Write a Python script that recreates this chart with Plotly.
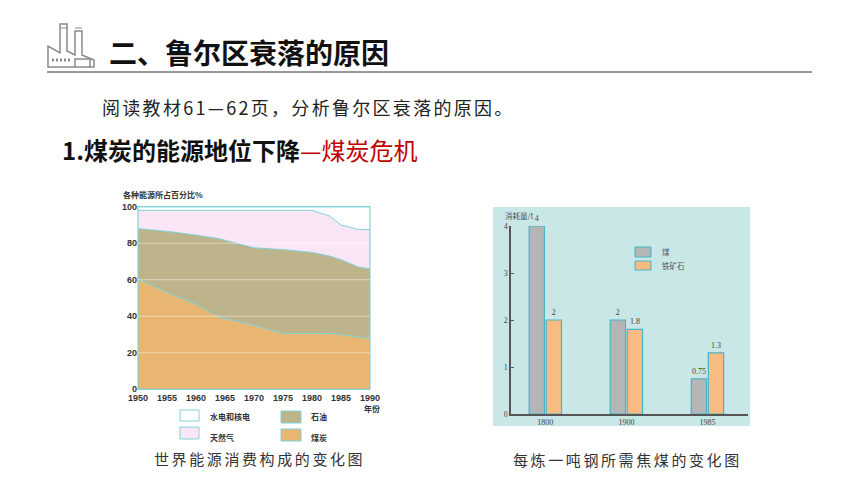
import plotly.graph_objects as go

W, H = 860, 484

# left chart, share of each source in percent
anios = [1950, 1955, 1960, 1964, 1970, 1975, 1980, 1983, 1985, 1988, 1990]
carbon = [60.5, 53, 46.5, 39.5, 35, 30.5, 30.5, 30.5, 30, 28.5, 28]
petroleo = [27.5, 33.5, 38, 43, 42.5, 46, 44.5, 42.5, 41, 38.5, 38]
gas = [10, 11.5, 13.5, 15.5, 20.5, 21.5, 23, 22, 19, 20.5, 21.5]
hidro = [2, 2, 2, 2, 2, 2, 2, 5, 10, 12.5, 12.5]
ticks_x = [1950, 1955, 1960, 1965, 1970, 1975, 1980, 1985, 1990]
ticks_y = [0, 20, 40, 60, 80, 100]

# right chart, tonnes per ton of steel
periodos = ["1800", "1900", "1985"]
coque = [4, 2, 0.75]
hierro = [2, 1.8, 1.3]
coque_txt = ["4", "2", "0.75"]
hierro_txt = ["2", "1.8", "1.3"]

TEAL = "#7fd3d6"
BAR_EDGE = "#45b4c6"
FUENTE = "Noto Sans CJK SC"
GRIS_ICONO = "#8a8a8a"


def px(x):
    return x / W


def py(y):
    return 1 - y / H


def ruta(puntos):
    return "M " + " L ".join(f"{px(x):.4f} {py(y):.4f}" for x, y in puntos)


def caja(x0, y0, x1, y1, relleno, borde, ancho=1):
    return dict(type="rect", xref="paper", yref="paper", x0=px(x0), x1=px(x1),
                y0=py(y1), y1=py(y0), fillcolor=relleno,
                line=dict(color=borde, width=ancho))


def texto(x, y, t, size, color="#222222", anchor="left", family=FUENTE):
    return dict(xref="paper", yref="paper", x=px(x), y=py(y), text=t, showarrow=False,
                xanchor=anchor, yanchor="middle", align="left",
                font=dict(size=size, color=color, family=family))


fig = go.Figure()

for nombre, serie, color in [("煤炭", carbon, "#e9b671"), ("石油", petroleo, "#bdb48b"),
                             ("天然气", gas, "#fbe6f8"), ("水电和核电", hidro, "#ffffff")]:
    fig.add_trace(go.Scatter(x=anios, y=serie, name=nombre, stackgroup="uno", mode="lines",
                             line=dict(color=TEAL, width=1), fillcolor=color,
                             xaxis="x", yaxis="y", showlegend=False))

fig.add_trace(go.Bar(x=periodos, y=coque, name="煤", text=coque_txt, textposition="outside",
                     marker=dict(color="#b5b5b5", line=dict(color=BAR_EDGE, width=1.2)),
                     xaxis="x2", yaxis="y2", showlegend=False, cliponaxis=False))
fig.add_trace(go.Bar(x=periodos, y=hierro, name="铁矿石", text=hierro_txt, textposition="outside",
                     marker=dict(color="#f8bc82", line=dict(color=BAR_EDGE, width=1.2)),
                     xaxis="x2", yaxis="y2", showlegend=False, cliponaxis=False))

formas = [
    # right chart panel
    dict(type="rect", xref="paper", yref="paper", x0=px(493), x1=px(750), y0=py(426), y1=py(207),
         fillcolor="#cae7e8", line_width=0, layer="below"),
    # header rule
    dict(type="line", xref="paper", yref="paper", x0=px(47), x1=px(812), y0=py(72), y1=py(72),
         line=dict(color="#333333", width=1)),
    # factory icon
    dict(type="path", xref="paper", yref="paper",
         path=ruta([(48, 67), (48, 46), (60, 53), (60, 24), (67, 24), (67, 51), (75, 55), (75, 31),
                    (82, 31), (82, 55), (94, 60), (94, 67), (48, 67)]) + " Z",
         line=dict(color=GRIS_ICONO, width=1.5)),
    dict(type="path", xref="paper", yref="paper",
         path=ruta([(75, 67), (75, 59), (90, 59), (90, 67)]), line=dict(color=GRIS_ICONO, width=1.5)),
    dict(type="line", xref="paper", yref="paper", x0=px(60), x1=px(82), y0=py(28), y1=py(28),
         line=dict(color=GRIS_ICONO, width=1, dash="7px,8px")),
    dict(type="line", xref="paper", yref="paper", x0=px(52), x1=px(72), y0=py(60), y1=py(60),
         line=dict(color=GRIS_ICONO, width=3, dash="2px,2px")),
    # left legend swatches
    caja(180, 410, 199, 421, "#ffffff", TEAL),
    caja(180, 427, 199, 439, "#fbe6f8", TEAL),
    caja(281, 411, 301, 423, "#bdb48b", TEAL),
    caja(281, 429, 301, 441, "#e9b671", TEAL),
    # right legend swatches
    caja(635, 247, 651, 257, "#b5b5b5", BAR_EDGE),
    caja(635, 261, 651, 270, "#f8bc82", BAR_EDGE),
    # upper frame of the area chart
    dict(type="rect", xref="x domain", yref="y domain", x0=0, x1=1, y0=0, y1=1,
         line=dict(color=TEAL, width=1.2)),
]
# pale grid lines over the areas
for v in ticks_y[1:-1]:
    formas.append(dict(type="line", xref="x domain", yref="y", x0=0, x1=1, y0=v, y1=v,
                       line=dict(color="rgba(255,255,255,0.45)", width=1)))

notas = [
    texto(107, 52, "<b>二、鲁尔区衰落的原因</b>", 28, "#111111"),
    texto(100, 107, "阅读教材61—62页，分析鲁尔区衰落的原因。", 18, "#222222"),
    texto(60, 149, '<b>1.煤炭的能源地位下降</b><span style="color:#c00000">—煤炭危机</span>', 24, "#111111"),
    texto(121, 194, "<b>各种能源所占百分比%</b>", 8, "#333333"),
    texto(362, 408, "<b>年份</b>", 8, "#333333"),
    texto(208, 416, "<b>水电和核电</b>", 8, "#333333"),
    texto(208, 437, "<b>天然气</b>", 8, "#333333"),
    texto(309, 416, "<b>石油</b>", 8, "#333333"),
    texto(309, 437, "<b>煤炭</b>", 8, "#333333"),
    texto(152, 458, "世界能源消费构成的变化图", 15, "#333333"),
    texto(511, 459, "每炼一吨钢所需焦煤的变化图", 15, "#333333"),
    texto(503, 215, "消耗量/t", 7.5, "#555555"),
    texto(660, 251, "煤", 7.5, "#555555"),
    texto(660, 265, "铁矿石", 7.5, "#555555"),
]

fig.update_layout(
    width=W, height=H, margin=dict(l=0, r=0, t=0, b=0, autoexpand=False),
    paper_bgcolor="#ffffff", plot_bgcolor="rgba(0,0,0,0)",
    barmode="group", bargap=0.58, bargroupgap=0.1,
    shapes=formas, annotations=notas, showlegend=False,
    font=dict(family=FUENTE),
    xaxis=dict(domain=[px(138), px(370)], range=[1950, 1990], tickvals=ticks_x, showgrid=False,
               zeroline=False, showline=True, linecolor=TEAL, ticks="", anchor="y",
               tickfont=dict(family="Liberation Sans", size=9, color="#333333", weight="bold")),
    yaxis=dict(domain=[py(389.3), py(206.7)], range=[0, 100], tickvals=ticks_y, showgrid=False,
               zeroline=False, showline=False, ticks="", anchor="x",
               tickfont=dict(family="Liberation Sans", size=9, color="#333333", weight="bold")),
    xaxis2=dict(domain=[px(511), px(748)], type="category", range=[-0.423, 2.5], showgrid=False,
                zeroline=False, showline=True, linecolor="#555555", linewidth=1.5, ticks="", anchor="y2",
                tickfont=dict(family="Liberation Serif", size=8, color="#444444")),
    yaxis2=dict(domain=[py(414), py(226)], range=[0, 4], tickvals=[0, 1, 2, 3, 4], showgrid=False,
                zeroline=False, showline=True, linecolor="#555555", linewidth=1.5, ticks="inside",
                ticklen=3, tickcolor="#555555", anchor="x2",
                tickfont=dict(family="Liberation Serif", size=8, color="#444444")),
)
fig.update_traces(textfont=dict(family="Liberation Serif", size=8, color="#444444"),
                  selector=dict(type="bar"))

# the page keeps a default body margin otherwise; the captions are letter-spaced in the original
ajuste = """
document.body.style.margin = '0';
document.querySelectorAll('.annotation-text').forEach(function (t) {
  var s = t.textContent;
  if (s.indexOf('变化图') >= 0) t.style.letterSpacing = '2.6px';
  if (s.indexOf('阅读') === 0) t.style.letterSpacing = '2.3px';
});
"""
fig.write_html("out.html", post_script=ajuste, config=dict(displayModeBar=False))
